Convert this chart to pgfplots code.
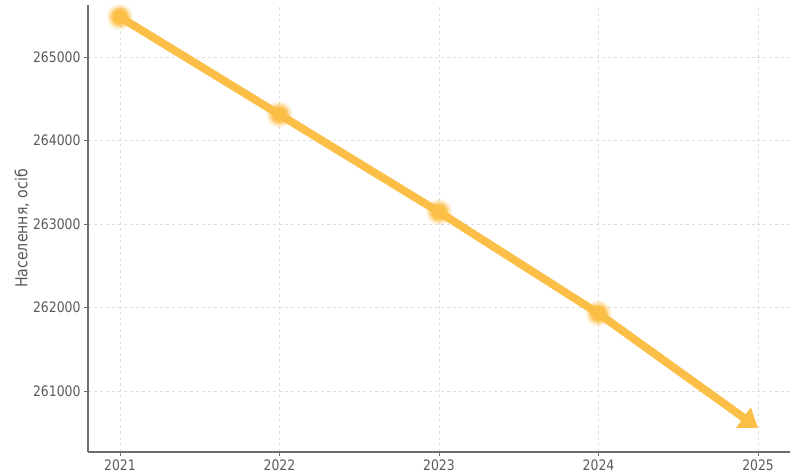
\documentclass[border=0pt]{standalone}
\usepackage{fontspec}
\setmainfont{DejaVu Sans}[FakeStretch=0.86]
\usepackage{pgfplots}
\pgfplotsset{compat=1.18}
\usetikzlibrary{calc,arrows.meta}
\definecolor{lineC}{RGB}{251,191,71}
\definecolor{txtC}{RGB}{90,90,90}
\definecolor{gridC}{RGB}{222,222,222}
\definecolor{spineC}{RGB}{110,110,110}
\begin{document}
\begin{tikzpicture}
\begin{axis}[
  scale only axis,
  width=702bp, height=447bp,
  xmin=2020.8, xmax=2025.2,
  ymin=260270, ymax=265623,
  axis x line*=bottom, axis y line*=left,
  axis line style={spineC, line width=1.3bp, -},
  xtick={2021,2022,2023,2024,2025},
  xticklabels={2021,2022,2023,2024,2025},
  ytick={261000,262000,263000,264000,265000},
  yticklabels={261000,262000,263000,264000,265000},
  tick align=outside,
  major tick length=4bp,
  tick style={spineC, line width=0.8bp},
  grid=major,
  major grid style={gridC, dashed, line width=0.6bp},
  scaled y ticks=false,
  ticklabel style={font=\fontsize{14.5}{16}\selectfont, text=txtC},
  ylabel={Населення, осіб},
  every axis y label/.style={at={(ticklabel cs:0.5)}, rotate=90, anchor=near ticklabel, yshift=-3bp, font=\fontsize{16.5}{19}\selectfont, text=txtC},
  clip=false,
]
\addplot[lineC, line width=8bp, -{Triangle[length=18bp,width=24bp]}]
  coordinates {(2021,265479) (2022,264311) (2023,263144) (2024,261928) (2025,260557)};
\addplot[lineC, only marks, mark=*, mark size=13bp, mark options={draw=lineC, fill=lineC, opacity=0.15}]
  coordinates {(2021,265479) (2022,264311) (2023,263144) (2024,261928)};
\addplot[lineC, only marks, mark=*, mark size=11bp, mark options={draw=lineC, fill=lineC, opacity=0.3}]
  coordinates {(2021,265479) (2022,264311) (2023,263144) (2024,261928)};
\addplot[lineC, only marks, mark=*, mark size=9bp, mark options={draw=lineC, fill=lineC, opacity=0.6}]
  coordinates {(2021,265479) (2022,264311) (2023,263144) (2024,261928)};
\addplot[lineC, only marks, mark=*, mark size=7bp, mark options={draw=lineC, fill=lineC}]
  coordinates {(2021,265479) (2022,264311) (2023,263144) (2024,261928)};
\end{axis}
\path ($(current axis.south west)+(-88bp,-24bp)$) rectangle ($(current axis.north east)+(4bp,5bp)$);
\end{tikzpicture}
\end{document}
